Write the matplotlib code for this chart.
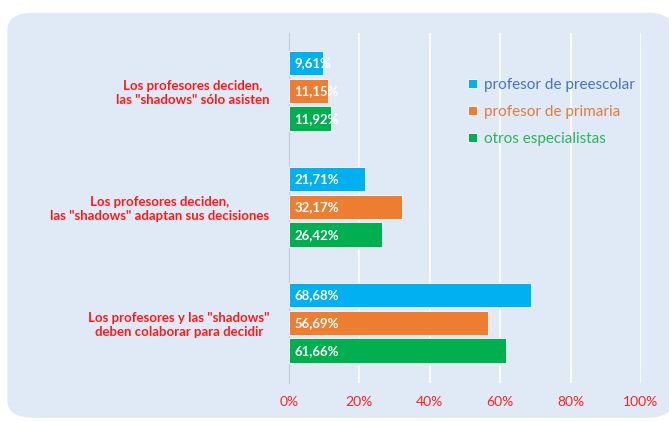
import numpy as np
import matplotlib.pyplot as plt
from matplotlib.patches import FancyBboxPatch

plt.rcParams['font.family'] = ['Lato', 'DejaVu Sans']

categories = ['Los profesores deciden,\nlas "shadows" sólo asisten',
              'Los profesores deciden,\nlas "shadows" adaptan sus decisiones',
              'Los profesores y las "shadows"\ndeben colaborar para decidir']
series_names = ['profesor de preescolar', 'profesor de primaria', 'otros especialistas']
preescolar = [9.61, 21.71, 68.68]
primaria = [11.15, 32.17, 56.69]
especialistas = [11.92, 26.42, 61.66]
values = [preescolar, primaria, especialistas]
colors = ['#00B0F0', '#ED7D31', '#00B050']
legend_text_colors = ['#4472C4', '#E07B3C', '#2DB35A']
xticks = [0, 20, 40, 60, 80, 100]

fig = plt.figure(figsize=(6.69, 4.22), dpi=100)
fig.patch.set_facecolor('white')

# rounded light blue panel
panel = FancyBboxPatch((0.011, 0.01), 0.995, 0.96,
                       boxstyle='round,pad=0,rounding_size=0.04',
                       transform=fig.transFigure, facecolor='#DFEAF6',
                       edgecolor='none', zorder=-10)
fig.add_artist(panel)

ax = fig.add_axes([0.432, 0.092, 0.526, 0.83])
ax.set_facecolor('none')
ax.set_zorder(1)

y = np.arange(len(categories))
step = 0.24
height = 0.213
for i, (vals, col) in enumerate(zip(values, colors)):
    pos = y + (i - 1) * step
    ax.barh(pos, vals, height=height, color=col, edgecolor='white',
            linewidth=0.6, label=series_names[i], zorder=3)
    for p, v in zip(pos, vals):
        ax.text(1.6, p, f'{v:.2f}%'.replace('.', ','), color='white',
                fontsize=9.5, fontweight='bold', va='center', ha='left', zorder=4)

ax.set_xlim(0, 100)
ax.set_ylim(2.52, -0.5)
ax.set_xticks(xticks)
ax.set_xticklabels([f'{t}%' for t in xticks], color='#FF2020', fontsize=10)
ax.set_yticks(y)
ax.set_yticklabels(categories, color='#FF1A1A', fontsize=9.5,
                   fontweight='bold', multialignment='center')
ax.tick_params(axis='both', length=0)
ax.tick_params(axis='x', pad=9)
ax.tick_params(axis='y', pad=14)

ax.grid(axis='x', color='white', linewidth=1.2, zorder=1)
ax.set_axisbelow(True)
for s in ['top', 'right', 'bottom']:
    ax.spines[s].set_visible(False)
ax.spines['left'].set_color('#C8CCD2')

leg = ax.legend(loc='upper left', bbox_to_anchor=(0.47, 0.91), frameon=False,
                fontsize=11, handlelength=0.55, handleheight=0.55,
                handletextpad=0.5, labelspacing=0.85)
for t, c in zip(leg.get_texts(), legend_text_colors):
    t.set_color(c)

fig.savefig('out.png', dpi=100)
